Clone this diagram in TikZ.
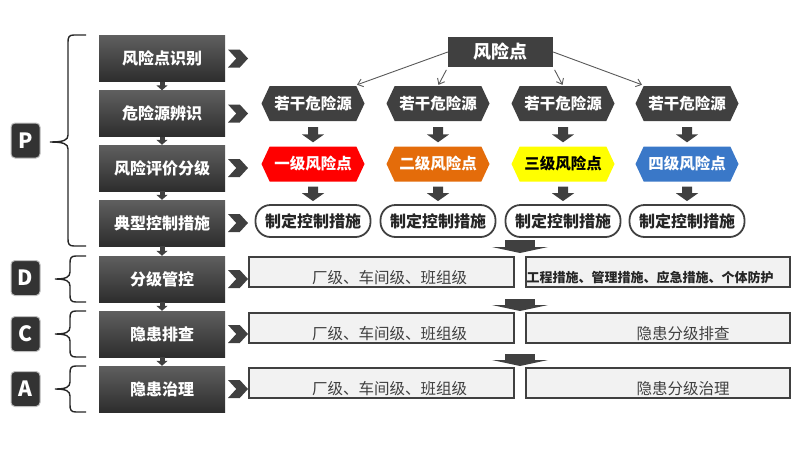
\documentclass[tikz,border=0pt]{standalone}
\usepackage{fontspec}
\setmainfont{Noto Sans CJK SC}
\usepackage{tikz}
\usetikzlibrary{shapes.symbols, arrows.meta}

\definecolor{darkbox}{RGB}{64,64,64}
\definecolor{stepTop}{RGB}{95,95,95}
\definecolor{stepBot}{RGB}{45,45,45}
\definecolor{levelOne}{RGB}{255,0,0}
\definecolor{levelTwo}{RGB}{228,108,10}
\definecolor{levelThree}{RGB}{255,255,0}
\definecolor{levelFour}{RGB}{58,120,200}
\definecolor{paleBox}{RGB}{242,242,242}

\begin{document}
\begin{tikzpicture}[x=1pt, y=-1pt,
        stepbox/.style={
            % The shape:
            rectangle,
            % The size:
            minimum width=126pt, minimum height=46pt, inner sep=0pt,
            % The filling
            top color=stepTop, bottom color=stepBot,
            % Font
            text=white, font=\fontsize{16}{18}\selectfont\bfseries
        },
        badge/.style={
            rectangle, rounded corners=4pt,
            minimum width=29pt, minimum height=35pt,
            fill=black!80, draw=black!25, line width=1pt,
            text=white, font=\fontsize{21}{24}\selectfont\bfseries
        },
        chevron/.style={
            signal, signal from=west, signal to=east, signal pointer angle=95,
            minimum width=20pt, minimum height=18pt, inner sep=0pt,
            fill=darkbox
        },
        hexa/.style={
            signal, signal to=east and west, signal pointer angle=130,
            minimum width=103pt, minimum height=35pt, inner sep=0pt,
            fill=darkbox, text=white,
            font=\fontsize{15.5}{18}\selectfont\bfseries
        },
        riskbox/.style={
            rectangle, minimum width=105pt, minimum height=30pt,
            fill=darkbox, text=white,
            font=\fontsize{18}{20}\selectfont\bfseries
        },
        measure/.style={
            rectangle, rounded corners=15pt,
            minimum width=115pt, minimum height=32pt,
            draw=darkbox, line width=1.8pt, fill=white,
            text=black!85, font=\fontsize{16}{18}\selectfont\bfseries
        },
        pale/.style={
            rectangle, minimum height=30pt, inner sep=0pt,
            draw=darkbox, line width=2pt, fill=paleBox
        },
        lowlabel/.style={yshift=-6pt, text=darkbox, font=\fontsize{15.5}{18}\selectfont},
        bracket/.style={draw=black!85, line width=1.4pt},
        thinarrow/.style={draw=black!65, line width=0.9pt, -{Straight Barb[length=5pt,width=8pt]}},
        blockarrow/.style={draw=darkbox, line width=10pt, -{Triangle[width=22pt,length=8pt]}},
        tinyarrow/.style={draw=darkbox, line width=5pt, -{Triangle[width=11pt,length=5pt]}},
        widearrow/.style={draw=darkbox, line width=30pt, -{Triangle[width=56pt,length=6pt]}}
    ]

    \useasboundingbox (0,0) rectangle (800,453);

    % left column
    \foreach \i/\y/\txt in {1/58.5/风险点识别, 2/113.5/危险源辨识, 3/168/风险评价分级,
            4/223/典型控制措施, 5/279/分级管控, 6/334/隐患排查, 7/389/隐患治理}
    {
        \node [stepbox] (s\i) at (162,\y) {\txt};
        \node [chevron] (ch\i) at (238,\y) {};
    }
    \foreach \i [count=\j from 2] in {1,...,6}
        \draw [tinyarrow] (s\i) -- (s\j);

    % PDCA badges and braces
    \foreach \l/\y in {P/140.5, D/278, C/334, A/389}
        \node [badge] (badge\l) at (25.5,\y) {\l};
    \foreach \t/\m/\b/\v/\tip in {35/142/246/68/50, 256/279/302/70/55,
            311/334/357/70/55, 366/389/412/70/55}
        \draw [bracket] (86,\t) -- ({\v+6},\t) .. controls ({\v+1},\t) and (\v,{\t+2}) .. (\v,{\t+7})
            -- (\v,{\m-7}) .. controls (\v,{\m-2}) and ({\v-4},\m) .. (\tip,\m)
            .. controls ({\v-4},\m) and (\v,{\m+2}) .. (\v,{\m+7})
            -- (\v,{\b-7}) .. controls (\v,{\b-2}) and ({\v+1},\b) .. ({\v+6},\b) -- (86,\b);

    % P part
    \node [riskbox] (rp) at (500.5,52) {风险点};
    \foreach \i/\x/\txt/\col/\tcol in {1/313/一级风险点/levelOne/white, 2/438/二级风险点/levelTwo/white,
            3/563/三级风险点/levelThree/black, 4/687/四级风险点/levelFour/white}
    {
        \node [hexa] (h\i) at (\x,103.5) {若干危险源};
        \node [hexa, fill=\col, text=\tcol] (l\i) at (\x,164) {\txt};
        \node [measure] (m\i) at (\x,221) {制定控制措施};
        \draw [blockarrow, shorten <=6pt, shorten >=4pt] (h\i) -- (l\i);
        \draw [blockarrow, shorten <=5pt, shorten >=3pt] (l\i) -- (m\i);
    }
    \draw [thinarrow] (rp.west) -- ([xshift=44pt,yshift=1pt]h1.north);
    \draw [thinarrow, shorten <=3pt, shorten >=1pt] (rp.south west) -- (h2.north);
    \draw [thinarrow, shorten <=3pt, shorten >=1pt] (rp.south east) -- (h3.north);
    \draw [thinarrow] (rp.east) -- ([xshift=-45pt,yshift=1pt]h4.north);

    % D, C, A part
    \foreach \i/\y/\txt/\dx in {1/272/{\fontsize{13}{15}\selectfont\bfseries\color{black!85}工程措施、管理措施、应急措施、个体防护}/-8,
            2/328/隐患分级排查/25, 3/383/隐患分级治理/25}
    {
        \node [pale, minimum width=265pt,
            label={[lowlabel, xshift=8pt]center:厂级、车间级、班组级}] (g\i) at (381.5,\y) {};
        \node [pale, minimum width=264pt,
            label={[lowlabel, xshift=\dx pt]center:\txt}] (r\i) at (658,\y) {};
    }
    \foreach \i/\ya/\yb in {1/240/253, 2/299/311, 3/354/366}
    {
        \coordinate (wa\i) at (520,\ya);
        \coordinate (wb\i) at (520,\yb);
        \draw [widearrow] (wa\i) -- (wb\i);
    }

\end{tikzpicture}
\end{document}
